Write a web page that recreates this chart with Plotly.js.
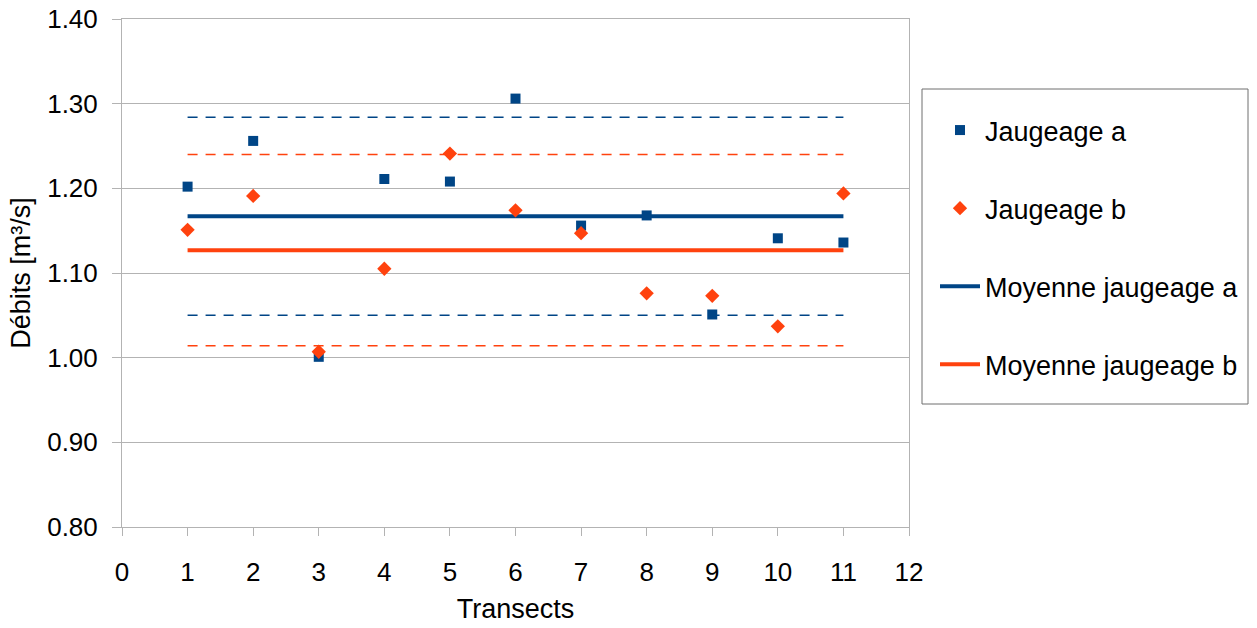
<!DOCTYPE html>
<html>
<head>
<meta charset="utf-8">
<script src="https://cdn.plot.ly/plotly-3.0.1.min.js"></script>
<style>html,body{margin:0;padding:0;background:#fff;}#chart{width:1257px;height:628px;}</style>
</head>
<body>
<div id="chart"></div>
<script>
// Data
const transects = [1, 2, 3, 4, 5, 6, 7, 8, 9, 10, 11];
const jaugeageA = [1.202, 1.256, 1.001, 1.211, 1.208, 1.306, 1.156, 1.168, 1.051, 1.141, 1.136];
const jaugeageB = [1.151, 1.191, 1.007, 1.105, 1.241, 1.174, 1.147, 1.076, 1.073, 1.037, 1.194];
const lineX = [1, 11];
const moyenneA = 1.167;
const moyenneB = 1.127;
const upperA = 1.284;
const lowerA = 1.050;
const upperB = 1.240;
const lowerB = 1.014;
const xTicks = [0, 1, 2, 3, 4, 5, 6, 7, 8, 9, 10, 11, 12];
const yTicks = [0.80, 0.90, 1.00, 1.10, 1.20, 1.30, 1.40];
const yTickLabels = ["0.80", "0.90", "1.00", "1.10", "1.20", "1.30", "1.40"];
const names = ["Jaugeage a", "Jaugeage b", "Moyenne jaugeage a", "Moyenne jaugeage b"];

const BLUE = "#004586";
const ORANGE = "#ff420e";
const FONT = "Liberation Sans, Arial, sans-serif";

const traces = [
  {x: lineX, y: [upperA, upperA], mode: "lines", line: {color: BLUE, width: 1.5, dash: "10px,8px"}, showlegend: false, hoverinfo: "skip"},
  {x: lineX, y: [lowerA, lowerA], mode: "lines", line: {color: BLUE, width: 1.5, dash: "10px,8px"}, showlegend: false, hoverinfo: "skip"},
  {x: lineX, y: [upperB, upperB], mode: "lines", line: {color: ORANGE, width: 1.5, dash: "10px,8px"}, showlegend: false, hoverinfo: "skip"},
  {x: lineX, y: [lowerB, lowerB], mode: "lines", line: {color: ORANGE, width: 1.5, dash: "10px,8px"}, showlegend: false, hoverinfo: "skip"},
  {x: lineX, y: [moyenneA, moyenneA], mode: "lines", name: names[2], legendgroup: "c", legendrank: 3, line: {color: BLUE, width: 4}},
  {x: lineX, y: [moyenneB, moyenneB], mode: "lines", name: names[3], legendgroup: "d", legendrank: 4, line: {color: ORANGE, width: 4}},
  {x: transects, y: jaugeageA, mode: "markers", name: names[0], legendgroup: "a", legendrank: 1, marker: {symbol: "square", size: 10, color: BLUE}},
  {x: transects, y: jaugeageB, mode: "markers", name: names[1], legendgroup: "b", legendrank: 2, marker: {symbol: "diamond", size: 11, color: ORANGE}}
];

const layout = {
  width: 1257,
  height: 628,
  margin: {l: 122, r: 348, t: 19, b: 101, pad: 0},
  paper_bgcolor: "#ffffff",
  plot_bgcolor: "#ffffff",
  font: {family: FONT, size: 26, color: "#000000"},
  showlegend: true,
  legend: {
    x: (935 - 122) / 787, xanchor: "left",
    y: (527 - 106) / 508, yanchor: "top",
    bgcolor: "rgba(0,0,0,0)",
    borderwidth: 0,
    font: {family: FONT, size: 27, color: "#000000"},
    traceorder: "grouped",
    tracegroupgap: 40,
    itemwidth: 40
  },
  shapes: [{
    type: "rect", xref: "paper", yref: "paper",
    x0: (922 - 122) / 787, x1: (1248 - 122) / 787,
    y0: (527 - 404) / 508, y1: (527 - 89) / 508,
    line: {color: "#6e6e6e", width: 1}, fillcolor: "#ffffff", layer: "below"
  }],
  xaxis: {
    range: [0, 12],
    tickvals: xTicks,
    ticktext: xTicks.map(String),
    ticks: "outside",
    ticklen: 8,
    tickcolor: "#b3b3b3",
    showline: true,
    linecolor: "#b3b3b3",
    linewidth: 1,
    mirror: true,
    showgrid: false,
    zeroline: false,
    ticklabelstandoff: 14,
    tickfont: {family: FONT, size: 26, color: "#000000"},
    title: {text: "Transects", font: {family: FONT, size: 27, color: "#000000"}, standoff: 12}
  },
  yaxis: {
    range: [0.80, 1.40],
    tickvals: yTicks,
    ticktext: yTickLabels,
    ticks: "outside",
    ticklen: 9,
    tickcolor: "#b3b3b3",
    showline: true,
    linecolor: "#b3b3b3",
    linewidth: 1,
    mirror: true,
    showgrid: true,
    gridcolor: "#b3b3b3",
    gridwidth: 1,
    zeroline: false,
    ticklabelstandoff: 9,
    tickfont: {family: FONT, size: 26, color: "#000000"},
    title: {text: "Débits [m³/s]", font: {family: FONT, size: 27, color: "#000000"}, standoff: 8}
  }
};

Plotly.newPlot("chart", traces, layout, {displayModeBar: false, staticPlot: true});
</script>
</body>
</html>
